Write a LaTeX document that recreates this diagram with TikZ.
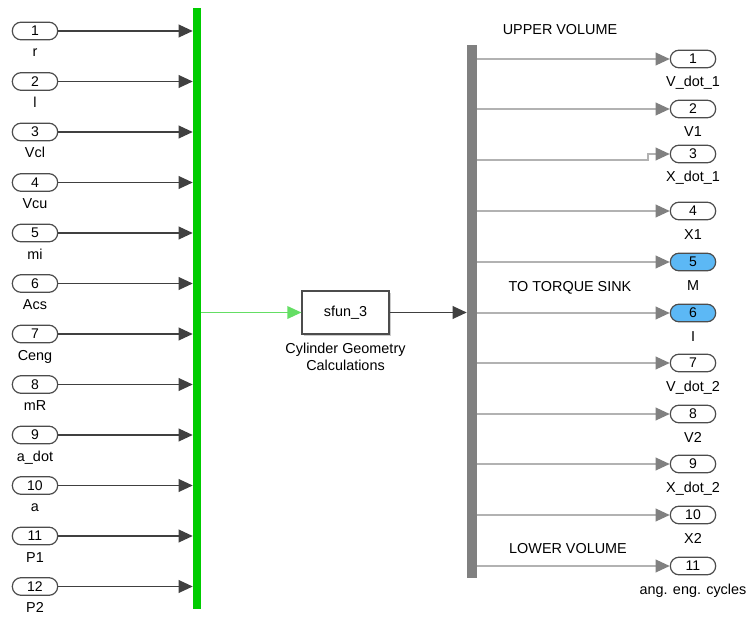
\documentclass[tikz,border=0pt]{standalone}
\usepackage{fontspec}
\setmainfont{Liberation Sans}
\usetikzlibrary{arrows.meta}

\definecolor{barGreen}{RGB}{0,204,0}
\definecolor{lineGreen}{RGB}{100,222,100}
\definecolor{portBlue}{RGB}{92,184,245}

\tikzset{
  port/.style={draw=black!70, line width=0.9pt, rounded corners=6.5pt, minimum width=34pt,
    minimum height=13.2pt, inner sep=0pt, font=\fontsize{10.5}{11}\selectfont},
  lbl/.style={font=\fontsize{10.8}{12}\selectfont, inner sep=0pt, anchor=base},
  sig/.style={draw=black!75, line width=1pt, -{Triangle[length=10.5pt,width=9.5pt]}},
  greensig/.style={draw=lineGreen, line width=1pt, -{Triangle[length=10.5pt,width=9.5pt]}},
  outsig/.style={draw=black!30, line width=1pt, -{Triangle[length=10.5pt,width=9.5pt,color=black!50]}}
}

\begin{document}
\begin{tikzpicture}[x=0.75pt, y=-0.75pt]
    \useasboundingbox (0,0) rectangle (753,624);

    % Mux and demux bars
    \node[fill=barGreen, inner sep=0pt, minimum width=6pt, minimum height=450.75pt] (mux) at (197,308.5) {};
    \node[fill=black!50, inner sep=0pt, minimum width=7.5pt, minimum height=399.75pt] (demux) at (472,311.5) {};

    % Inports with their signals
    \foreach \i/\name [evaluate=\i as \y using {31+(\i-1)*50.5}] in
      {1/r, 2/l, 3/Vcl, 4/Vcu, 5/mi, 6/Acs, 7/Ceng, 8/mR, 9/a\_dot, 10/a, 11/P1, 12/P2} {
        \node[port] (in\i) at (35,\y) {\i};
        \node[lbl] (inlbl\i) at (35,{\y+26}) {\name};
        \draw[sig] (in\i.east) -- (in\i.east -| mux.west);
    }

    % The S-function block
    \fill[black!20] (304,293) rectangle (391,336);
    \node[draw=black!70, fill=white, line width=0.9pt, minimum width=65.25pt, minimum height=32.25pt,
      font=\fontsize{10.8}{12}\selectfont] (sfun) at (345.5,312.5) {sfun\_3};
    \node[lbl] (sfunlbl1) at (345.5,353) {Cylinder Geometry};
    \node[lbl] (sfunlbl2) at (345.5,370) {Calculations};

    \draw[greensig] (mux.east |- sfun.west) -- (sfun.west);
    \draw[sig] (sfun.east) -- (sfun.east -| demux.west);

    % Outports with their labels
    \foreach \i/\y/\name/\col in
      {1/59/V\_dot\_1/white, 2/109/V1/white, 3/154/X\_dot\_1/white, 4/211/X1/white,
       5/262/M/portBlue, 6/313/I/portBlue, 7/363/V\_dot\_2/white, 8/414/V2/white,
       9/464/X\_dot\_2/white, 10/515/X2/white, 11/566/ang. eng. cycles/white} {
        \node[port, fill=\col] (out\i) at (693,\y) {\i};
        \node[lbl] (outlbl\i) at (693,{\y+28}) {\name};
    }

    % Demux signals
    \foreach \i in {1,2,4,5,6,7,8,9,10,11} {
        \draw[outsig] (demux.east |- out\i.west) -- (out\i.west);
    }
    \coordinate (bend3) at (648,160);
    \draw[outsig] (demux.east |- bend3) -- (bend3) |- (out3.west);

    % Group labels
    \node[lbl] (upper) at (560,35) {UPPER VOLUME};
    \node[lbl] (torque) at (570,291) {TO TORQUE SINK};
    \node[lbl] (lower) at (568,553) {LOWER VOLUME};

\end{tikzpicture}
\end{document}
